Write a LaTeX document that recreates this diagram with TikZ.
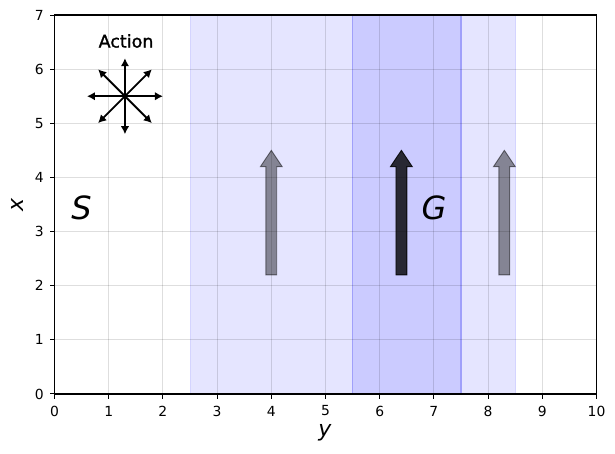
\documentclass[tikz,border=0pt]{standalone}
\usepackage{fontspec}
\setmainfont{DejaVu Sans}
\usetikzlibrary{arrows.meta,calc}
\definecolor{bandblue}{RGB}{229,229,255}
\definecolor{bandedge}{RGB}{160,160,250}
\tikzset{
  ticklab/.style={font=\fontsize{13.9pt}{16pt}\selectfont, inner sep=0pt},
  axlab/.style={font=\fontsize{22pt}{26pt}\selectfont\itshape, inner sep=0pt},
  biglab/.style={font=\fontsize{32pt}{36pt}\selectfont\itshape, inner sep=0pt},
  actlab/.style={font=\fontsize{17.5pt}{20pt}\selectfont\addfontfeature{FakeBold=1.2}, inner sep=0pt},
  gridline/.style={black, opacity=0.13, line width=0.9pt},
  grayarrow/.style={fill=black, fill opacity=0.42, draw=black, draw opacity=0.5, line width=0.9pt},
  darkarrow/.style={fill=black, fill opacity=0.8, draw=black, draw opacity=0.85, line width=0.9pt},
  compass/.style={-{Latex[length=8pt,width=8.5pt]}, line width=1.8pt, black},
  tickmark/.style={line width=1pt, black},
}
\begin{document}
\begin{tikzpicture}[x=54.2pt,y=54.14pt]
\useasboundingbox (-54.5pt,-60pt) rectangle (560.5pt,394pt);
\fill[white] (-54.5pt,-60pt) rectangle (560.5pt,394pt);
% bands
\fill[bandblue] (2.5,0) rectangle (8.5,7);
\fill[blue, opacity=0.11] (5.5,0) rectangle (7.5,7);
\draw[bandblue!80!blue!60, line width=0.8pt] (2.5,0) -- (2.5,7) (8.5,0) -- (8.5,7);
\draw[bandedge, line width=1.3pt] (5.5,0) -- (5.5,7) (7.5,0) -- (7.5,7);
% grid
\foreach \i in {1,...,9} \draw[gridline] (\i,0) -- (\i,7);
\foreach \j in {1,...,6} \draw[gridline] (0,\j) -- (10,\j);
% arrows
\foreach \cx/\sty in {4/grayarrow, 8.3/grayarrow, 6.4/darkarrow}
  \path[\sty] (\cx-0.1,2.2) -- (\cx-0.1,4.2) -- (\cx-0.2,4.2) -- (\cx,4.5) -- (\cx+0.2,4.2) -- (\cx+0.1,4.2) -- (\cx+0.1,2.2) -- cycle;
% labels S and G
\node[biglab] (S) at (0.5,3.44) {S};
\node[biglab] (G) at (7.0,3.44) {G};
% action compass
\node[actlab] (act) at (1.32,6.52) {Action};
\coordinate (c) at (1.3,5.5);
\foreach \ang [count=\k] in {0,45,...,315}
  \coordinate (d\k) at ($(c)+(\ang:38pt)$);
\foreach \k in {1,...,8} \draw[compass] (c) -- (d\k);
% axes frame
\draw[line width=1.1pt] (0,0) rectangle (10,7);
% ticks
\foreach \i in {0,...,10} {
  \draw[tickmark] (\i,0) -- ++(0,-4.9pt);
  \node[ticklab] (xt\i) at ($(\i,0)+(0,-17pt)$) {\i};
}
\foreach \j in {0,...,7} {
  \draw[tickmark] (0,\j) -- ++(-4.9pt,0);
  \node[ticklab, anchor=east] (yt\j) at ($(0,\j)+(-10.5pt,0)$) {\j};
}
\node[axlab] (ylab) at (4.99,-0.72) {y};
\node[axlab, rotate=90] (xlab) at (-0.68,3.49) {x};
\end{tikzpicture}
\end{document}
